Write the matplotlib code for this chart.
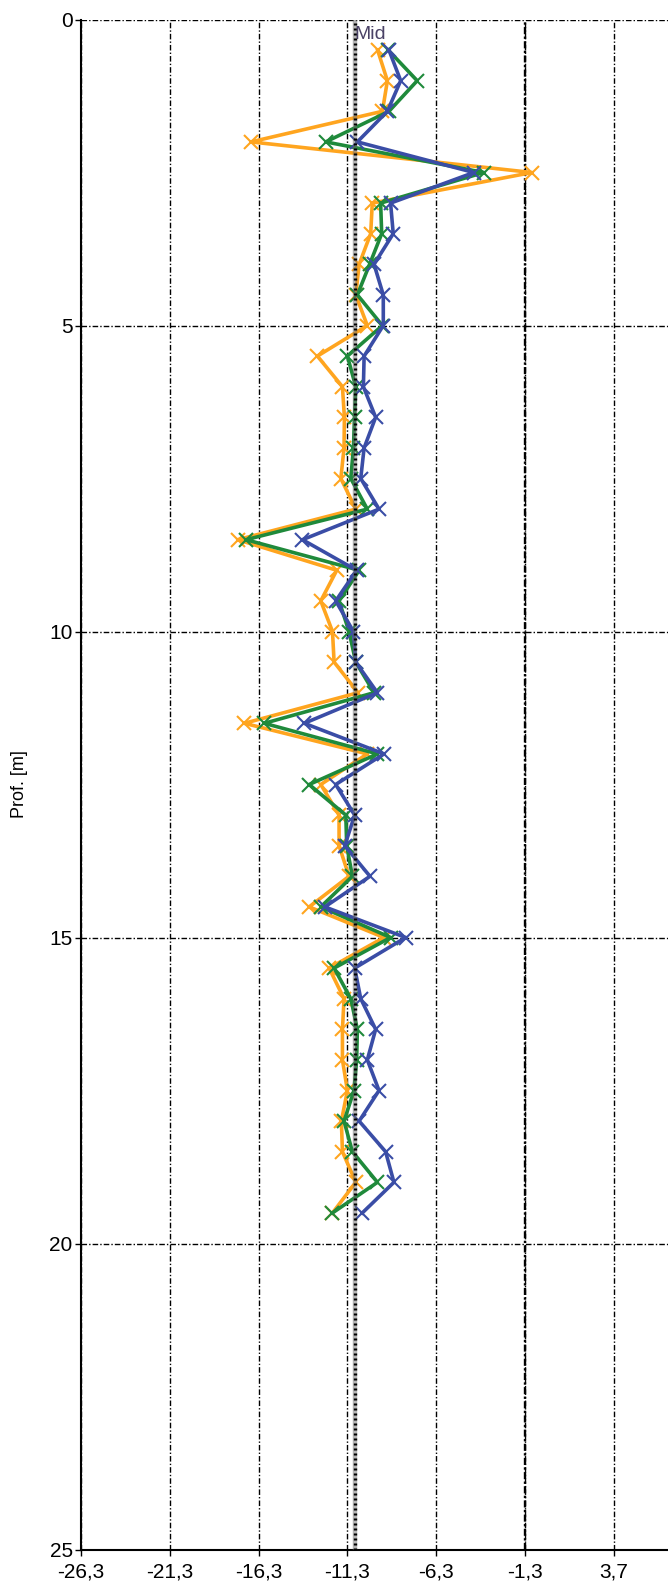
import matplotlib.pyplot as plt
from matplotlib.ticker import FuncFormatter

plt.rcParams['font.family'] = ['Liberation Sans Narrow', 'Liberation Sans', 'DejaVu Sans']

depth = [0.5, 1.0, 1.5, 2.0, 2.5, 3.0, 3.5, 4.0, 4.5, 5.0,
         5.5, 6.0, 6.5, 7.0, 7.5, 8.0, 8.5, 9.0, 9.5, 10.0,
         10.5, 11.0, 11.5, 12.0, 12.5, 13.0, 13.5, 14.0, 14.5, 15.0,
         15.5, 16.0, 16.5, 17.0, 17.5, 18.0, 18.5, 19.0, 19.5]

orange = [-9.6, -9.05, -9.33, -16.73, -0.91, -9.9, -9.99, -10.64, -10.83, -10.18,
          -12.99, -11.58, -11.47, -11.49, -11.67, -10.83, -17.48, -11.9, -12.8, -12.14,
          -12.05, -10.7, -17.1, -10.18, -12.8, -11.77, -11.77, -11.21, -13.45, -9.24,
          -12.33, -11.49, -11.58, -11.58, -11.3, -11.64, -11.58, -10.83, -12.14]
green = [-9.0, -7.37, -8.96, -12.52, -3.62, -9.43, -9.37, -10.05, -10.74, -9.33,
         -11.3, -10.83, -10.9, -10.96, -11.11, -10.18, -17.01, -10.64, -11.77, -11.21,
         -10.83, -9.8, -15.98, -9.61, -13.45, -11.39, -11.34, -11.02, -12.8, -8.87,
         -12.05, -11.11, -10.74, -10.78, -10.93, -11.49, -11.02, -9.61, -12.14]
blue = [-8.96, -8.3, -9.05, -10.74, -4.18, -8.87, -8.72, -9.8, -9.28, -9.28,
        -10.36, -10.4, -9.71, -10.36, -10.55, -9.52, -13.83, -10.78, -11.96, -10.96,
        -10.83, -9.61, -13.73, -9.24, -11.96, -10.89, -11.45, -10.03, -12.57, -8.02,
        -10.89, -10.55, -9.71, -10.18, -9.52, -10.64, -9.15, -8.68, -10.46]

x_ticks = [-26.3, -21.3, -16.3, -11.3, -6.3, -1.3, 3.7]
y_ticks = [0, 5, 10, 15, 20, 25]
mid_value = -10.85
max_value = -1.3

fig = plt.figure(figsize=(6.68, 15.85), dpi=100)
ax = fig.add_axes([81 / 668, 1 - 1549.5 / 1585, 1 - 81 / 668, (1549.5 - 19.5) / 1585])

grid_style = (0, (4, 1.5, 1, 1.5))
ax.set_xticks(x_ticks)
ax.set_yticks(y_ticks)
ax.grid(True, color='black', linestyle=grid_style, linewidth=1.0)

# series
for vals, col in [(orange, '#FFA51F'), (green, '#1F8A3B'), (blue, '#3A4DA6')]:
    ax.plot(vals, depth, color=col, linewidth=2.6, marker='x',
            markersize=10, markeredgewidth=1.5, zorder=3)

# reference lines
ax.axvline(max_value, color='black', linestyle=(0, (3, 1, 1, 1)), linewidth=1.7, zorder=2)
ax.axvline(mid_value, color='#6a6a6a', linewidth=3.2, zorder=4, alpha=0.5)
ax.axvline(mid_value, color='black', linestyle=(0, (0.6, 0.9)), linewidth=2.4, zorder=4)
ax.text(mid_value - 0.05, 0.1, 'Mid', color='#4a4266', fontsize=14,
        ha='left', va='top', zorder=5)

ax.set_xlim(-26.3, 6.75)
ax.set_ylim(25, 0)
ax.xaxis.set_major_formatter(FuncFormatter(lambda v, p: f'{v:.1f}'.replace('.', ',')))
ax.tick_params(labelsize=15, length=4, width=1, colors='black', pad=2)
ax.tick_params(axis='x', pad=5)
ax.set_ylabel('Prof. [m]', fontsize=13)
ax.yaxis.set_label_coords(-0.09, 0.5)

for s in ['top', 'right']:
    ax.spines[s].set_visible(False)
ax.spines['left'].set_linewidth(1.5)
ax.spines['bottom'].set_linewidth(1.5)

fig.savefig('out.png', dpi=100)
